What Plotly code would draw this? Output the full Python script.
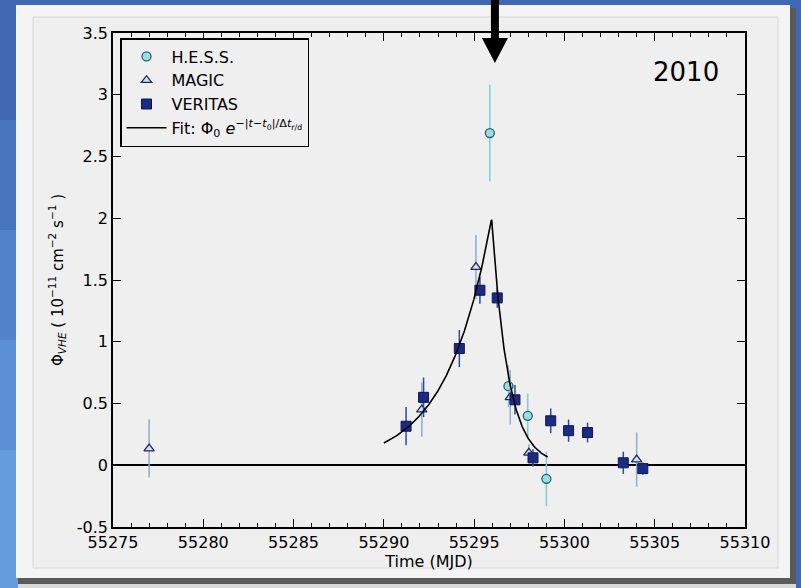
import numpy as np
import plotly.graph_objects as go

# ---------------- data ----------------
hess_t = [55295.87, 55296.90, 55297.97, 55299.00]
hess_flux = [2.69, 0.64, 0.40, -0.11]
hess_err = [0.39, 0.17, 0.18, 0.22]

magic_t = [55277.0, 55292.10, 55295.10, 55297.00, 55298.03, 55304.00]
magic_flux = [0.135, 0.45, 1.605, 0.55, 0.10, 0.046]
magic_err = [0.235, 0.22, 0.26, 0.22, 0.07, 0.22]

veritas_t = [55291.23, 55292.20, 55294.18, 55295.32, 55296.28, 55297.26,
             55298.26, 55299.24, 55300.23, 55301.28, 55303.26, 55304.34]
veritas_flux = [0.316, 0.55, 0.945, 1.417, 1.355, 0.53,
                0.06, 0.36, 0.28, 0.265, 0.02, -0.027]
veritas_err = [0.155, 0.16, 0.15, 0.11, 0.08, 0.12,
               0.07, 0.10, 0.09, 0.08, 0.09, 0.05]

# fit parameters: Phi0 * exp(-|t - t0| / dt_(r/d))
fit_phi0 = 2.0
fit_t0 = 55295.97
fit_tau_rise = 2.48
fit_tau_decay = 0.913
fit_t_start = 55290.0
fit_t_end = 55299.07

x_ticks = [55275, 55280, 55285, 55290, 55295, 55300, 55305, 55310]
y_ticks = [-0.5, 0, 0.5, 1, 1.5, 2, 2.5, 3, 3.5]
y_tick_text = ["-0.5", "0", "0.5", "1", "1.5", "2", "2.5", "3", "3.5"]
year_label = "2010"
arrow_mjd = 55296.15

# ---------------- layout geometry ----------------
W, H = 801, 588
ML, MR, MT, MB = 113, 56, 33, 61
PW, PH = W - ML - MR, H - MT - MB
X_RANGE = [55275, 55310]
Y_RANGE = [-0.5, 3.5]
SLIDE_BLUE = "#4068b2"


def px_x(px):
    return (px - ML) / PW


def px_y(py):
    return (H - MB - py) / PH


def data_to_px_x(t):
    return ML + (t - X_RANGE[0]) / (X_RANGE[1] - X_RANGE[0]) * PW


FONT = "DejaVu Sans"

fit_t = np.linspace(fit_t_start, fit_t_end, 300)
fit_y = np.where(fit_t < fit_t0,
                 fit_phi0 * np.exp(-np.abs(fit_t - fit_t0) / fit_tau_rise),
                 fit_phi0 * np.exp(-np.abs(fit_t - fit_t0) / fit_tau_decay))

fig = go.Figure()

fig.add_trace(go.Scatter(
    x=hess_t, y=hess_flux, mode="markers", name="H.E.S.S.",
    error_y=dict(type="data", array=hess_err, color="#7fcbd9", thickness=1.5, width=0),
    marker=dict(symbol="circle", size=9, color="#9fdcdc",
                line=dict(color="#24606e", width=1.3)),
    legendrank=1,
))
fig.add_trace(go.Scatter(
    x=magic_t, y=magic_flux, mode="markers", name="MAGIC",
    error_y=dict(type="data", array=magic_err, color="#8eaccd", thickness=1.5, width=0),
    marker=dict(symbol="triangle-up", size=9, color="#d6e0ea",
                line=dict(color="#1c2a5e", width=1.3)),
    legendrank=2,
))
fig.add_trace(go.Scatter(
    x=veritas_t, y=veritas_flux, mode="markers", name="VERITAS",
    error_y=dict(type="data", array=veritas_err, color="#2c4a9c", thickness=1.5, width=0),
    marker=dict(symbol="square", size=10, color="#1b2a82",
                line=dict(color="#0e1850", width=1)),
    legendrank=3,
))
fig.add_trace(go.Scatter(
    x=fit_t, y=fit_y, mode="lines",
    name="Fit: Φ<sub>0</sub> <i>e</i><sup>−|<i>t</i>−<i>t</i><sub>0</sub>|/Δ<i>t</i><sub>r/d</sub></sup>",
    line=dict(color="black", width=1.6),
    legendrank=4,
))

shapes = []
# lighter blue toward the bottom of the slide's left edge
for y_top, col in [(120, "#4874bc"), (230, "#5283c8"), (340, "#5b91d4"), (450, "#649cdd")]:
    shapes.append(dict(type="rect", xref="paper", yref="paper",
                       x0=px_x(-2), x1=px_x(20), y0=px_y(590), y1=px_y(y_top),
                       fillcolor=col, line=dict(width=0), layer="below"))
# card shadow
shapes.append(dict(type="rect", xref="paper", yref="paper",
                   x0=px_x(18), x1=px_x(796), y0=px_y(584), y1=px_y(8),
                   fillcolor="#5a5a5a", line=dict(width=0), layer="below"))
shapes.append(dict(type="rect", xref="paper", yref="paper",
                   x0=px_x(18), x1=px_x(796), y0=px_y(592), y1=px_y(584),
                   fillcolor="#d9d9d9", line=dict(width=0), layer="below"))
# card
shapes.append(dict(type="rect", xref="paper", yref="paper",
                   x0=px_x(16), x1=px_x(790), y0=px_y(578), y1=px_y(5),
                   fillcolor="#f4f4f4", line=dict(width=0), layer="below"))
shapes.append(dict(type="rect", xref="paper", yref="paper",
                   x0=px_x(33), x1=px_x(778), y0=px_y(568), y1=px_y(17),
                   fillcolor="#efefef", line=dict(color="#d8d8d8", width=1), layer="below"))

# arrow pointing to the flare
ax_px = data_to_px_x(arrow_mjd)
shapes.append(dict(type="rect", xref="paper", yref="paper",
                   x0=px_x(ax_px - 4), x1=px_x(ax_px + 4), y0=px_y(42), y1=px_y(-2),
                   fillcolor="black", line=dict(width=0), layer="above"))
shapes.append(dict(type="path", xref="paper", yref="paper",
                   path=f"M {px_x(ax_px - 13)},{px_y(38)} L {px_x(ax_px + 13)},{px_y(38)} L {px_x(ax_px)},{px_y(63)} Z",
                   fillcolor="black", line=dict(width=0), layer="above"))

fig.update_layout(
    width=W, height=H,
    margin=dict(l=ML, r=MR, t=MT, b=MB, pad=0),
    paper_bgcolor=SLIDE_BLUE,
    plot_bgcolor="#efefef",
    font=dict(family=FONT, color="black", size=16),
    showlegend=True,
    legend=dict(x=px_x(120), y=px_y(38), xanchor="left", yanchor="top",
                bgcolor="#efefef", bordercolor="black", borderwidth=1.5,
                font=dict(family=FONT, size=16, color="black"),
                tracegroupgap=2, itemwidth=40),
    shapes=shapes,
    annotations=[dict(text=year_label, xref="paper", yref="paper",
                      x=px_x(686), y=px_y(72), xanchor="center", yanchor="middle",
                      showarrow=False, font=dict(family=FONT, size=26, color="black"))],
)

fig.update_xaxes(
    range=X_RANGE, tickvals=x_ticks, ticktext=[str(v) for v in x_ticks],
    showgrid=False, zeroline=False,
    showline=True, linecolor="black", linewidth=1.5, mirror="ticks",
    ticks="inside", ticklen=8, tickwidth=1.2, tickcolor="black",
    minor=dict(ticks="inside", dtick=1, ticklen=4, tickwidth=1, tickcolor="black", showgrid=False),
    tickfont=dict(family=FONT, size=16, color="black"),
    title=dict(text="Time (MJD)", font=dict(family=FONT, size=16, color="black"), standoff=4),
)
fig.update_yaxes(
    range=Y_RANGE, tickvals=y_ticks, ticktext=y_tick_text,
    showgrid=False, zeroline=True, zerolinecolor="black", zerolinewidth=1.5,
    showline=True, linecolor="black", linewidth=1.5, mirror="ticks",
    ticks="inside", ticklen=8, tickwidth=1.2, tickcolor="black",
    tickfont=dict(family=FONT, size=16, color="black"),
    title=dict(text="Φ<sub><i>VHE</i></sub> ( 10<sup>−11</sup> cm<sup>−2</sup> s<sup>−1</sup> )",
               font=dict(family=FONT, size=15, color="black"), standoff=10),
)

fig.write_html(
    "out.html",
    config={"displayModeBar": False},
    post_script=f"document.body.style.margin='0';document.body.style.overflow='hidden';"
                f"document.body.style.background='{SLIDE_BLUE}';",
)
